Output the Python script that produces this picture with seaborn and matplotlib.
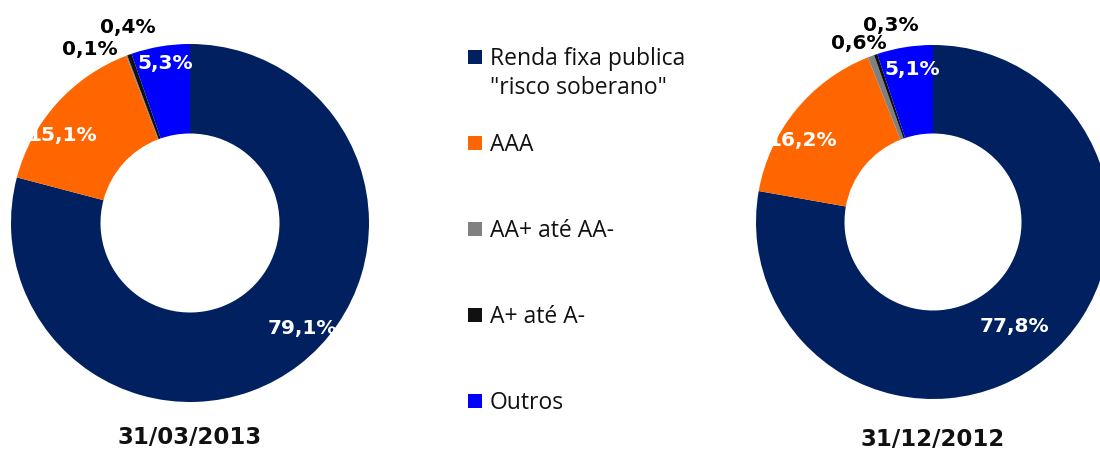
import matplotlib.pyplot as plt
import seaborn as sns

# categories, colours and values (clockwise from 12 o'clock)
categories = ["Renda fixa publica\n\"risco soberano\"", "AAA", "AA+ até AA-", "A+ até A-", "Outros"]
colors = ["#002060", "#FF6600", "#808080", "#111111", "#0000FF"]

mar_2013 = [79.1, 15.1, 0.1, 0.4, 5.3]
dez_2012 = [77.8, 16.2, 0.6, 0.3, 5.1]
titles = ["31/03/2013", "31/12/2012"]

# label placement (pie data coords, radius = 1)
mar_label_xy = [(0.63, -0.59), (-0.715, 0.49), (-0.56, 0.97), (-0.35, 1.09), (-0.14, 0.89)]
dez_label_xy = [(0.46, -0.59), (-0.74, 0.46), (-0.42, 1.01), (-0.24, 1.11), (-0.12, 0.86)]
label_colors = ["white", "white", "black", "black", "white"]

sns.set_theme(style="white")
plt.rcParams["font.family"] = ["DejaVu Sans"]

W, H = 1100, 451
fig = plt.figure(figsize=(11, 4.51), dpi=100)


def donut(cx, cy, r, values, label_xy, title, title_y):
    ax = fig.add_axes([(cx - r) / W, (H - cy - r) / H, 2 * r / W, 2 * r / H])
    pal = sns.color_palette(colors)
    ax.pie(values, colors=pal, startangle=90, counterclock=False, radius=1,
           wedgeprops=dict(width=0.5, edgecolor="none"))
    ax.set_xlim(-1, 1)
    ax.set_ylim(-1, 1)
    ax.set_aspect("equal")
    ax.axis("off")
    for v, (x, y), c in zip(values, label_xy, label_colors):
        ax.text(x, y, f"{v:.1f}%".replace(".", ","), ha="center", va="center",
                color=c, fontsize=14.5, fontweight="bold", clip_on=False)
    fig.text(cx / W, 1 - title_y / H, title, ha="center", va="center",
             fontsize=16.5, fontweight="bold", color="#111111")


donut(190, 223, 179, mar_2013, mar_label_xy, titles[0], 438)
donut(933, 222, 177, dez_2012, dez_label_xy, titles[1], 440)

# legend column
lax = fig.add_axes([440 / W, 0, 260 / W, 1])
lax.set_xlim(0, 260)
lax.set_ylim(H, 0)
lax.axis("off")
for i, (cat, col) in enumerate(zip(categories, colors)):
    y = 57 + 86 * i
    lax.scatter([35], [y], marker="s", s=100, color=col, linewidths=0)
    lax.text(50, y - 10, cat, ha="left", va="top", fontsize=16.5,
             family=["Open Sans", "DejaVu Sans"], color="#111111", linespacing=1.3)

fig.savefig("out.png", dpi=100)
